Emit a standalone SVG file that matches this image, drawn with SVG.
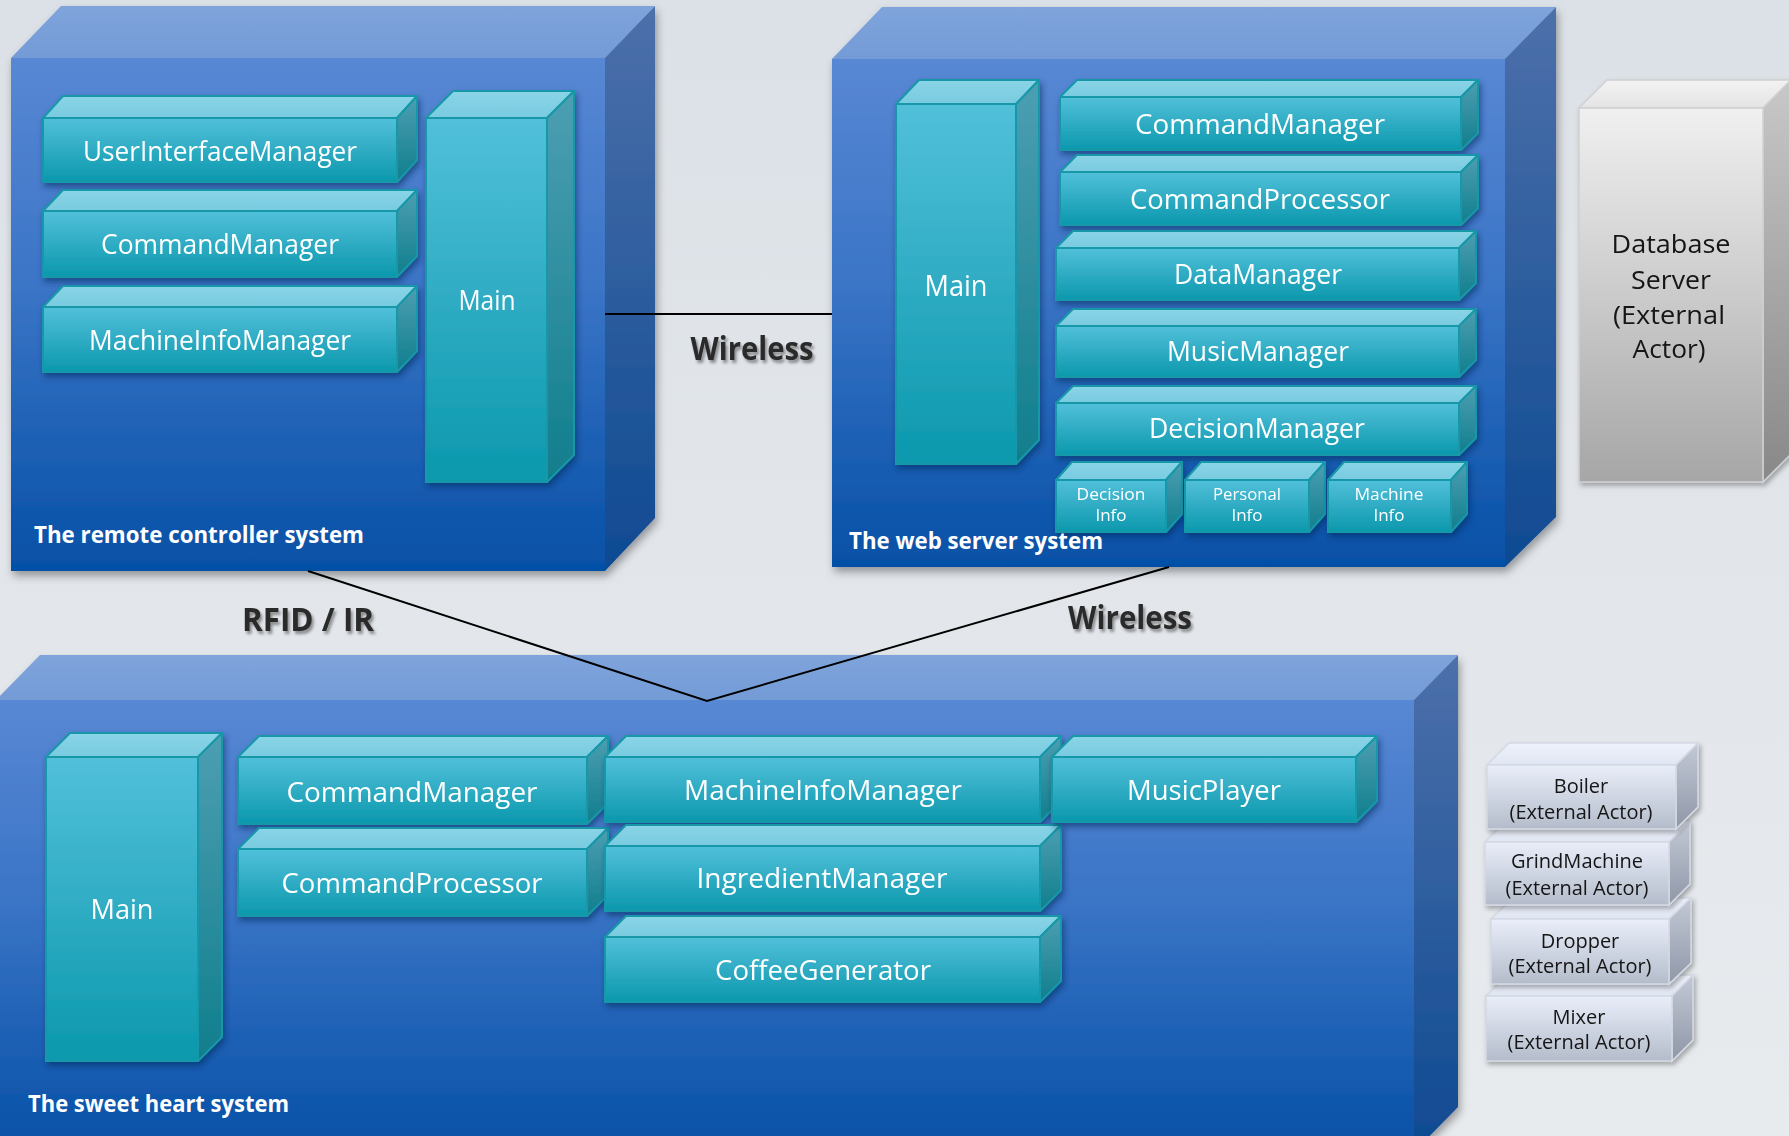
<svg xmlns="http://www.w3.org/2000/svg" width="1789" height="1136" viewBox="0 0 1789 1136">
<defs>
<linearGradient id="bg" x1="0" y1="0" x2="0" y2="1"><stop offset="0" stop-color="#dce1e7"/><stop offset="1" stop-color="#e8ebee"/></linearGradient>
<linearGradient id="sysFront" x1="0" y1="0" x2="0" y2="1"><stop offset="0" stop-color="#5888d4"/><stop offset="0.45" stop-color="#3a74c6"/><stop offset="1" stop-color="#0550a6"/></linearGradient>
<linearGradient id="sysTop" x1="0" y1="0" x2="0" y2="1"><stop offset="0" stop-color="#7fa4dc"/><stop offset="1" stop-color="#739bd6"/></linearGradient>
<linearGradient id="sysSide" x1="0" y1="0" x2="0" y2="1"><stop offset="0" stop-color="#4c70aa"/><stop offset="1" stop-color="#0e4a92"/></linearGradient>
<linearGradient id="tFront" x1="0" y1="0" x2="0" y2="1"><stop offset="0" stop-color="#52c0da"/><stop offset="1" stop-color="#0b98ad"/></linearGradient>
<linearGradient id="tTop" x1="0" y1="0" x2="0" y2="1"><stop offset="0" stop-color="#8ad4e7"/><stop offset="1" stop-color="#78cbe0"/></linearGradient>
<linearGradient id="tSide" x1="0" y1="0" x2="0" y2="1"><stop offset="0" stop-color="#4c9fb2"/><stop offset="1" stop-color="#107e8d"/></linearGradient>
<linearGradient id="aFront" x1="0" y1="0" x2="0" y2="1"><stop offset="0" stop-color="#e9eef9"/><stop offset="1" stop-color="#b4bccb"/></linearGradient>
<linearGradient id="aTop" x1="0" y1="0" x2="0" y2="1"><stop offset="0" stop-color="#eef1fa"/><stop offset="1" stop-color="#e0e6f3"/></linearGradient>
<linearGradient id="aSide" x1="0" y1="0" x2="0" y2="1"><stop offset="0" stop-color="#c3c9d6"/><stop offset="1" stop-color="#8f97a7"/></linearGradient>
<linearGradient id="dbFront" x1="0" y1="0" x2="0" y2="1"><stop offset="0" stop-color="#f0f0f0"/><stop offset="1" stop-color="#a6a6a6"/></linearGradient>
<linearGradient id="dbTop" x1="0" y1="0" x2="0" y2="1"><stop offset="0" stop-color="#f2f2f2"/><stop offset="1" stop-color="#e4e4e4"/></linearGradient>
<linearGradient id="dbSide" x1="0" y1="0" x2="0" y2="1"><stop offset="0" stop-color="#c8c8c8"/><stop offset="1" stop-color="#888888"/></linearGradient>
<filter id="shSys" x="-5%" y="-5%" width="115%" height="115%"><feDropShadow dx="2" dy="5" stdDeviation="4" flood-color="#000" flood-opacity="0.35"/></filter>
<filter id="shComp" x="-10%" y="-10%" width="125%" height="135%"><feDropShadow dx="2" dy="4" stdDeviation="3" flood-color="#002a5a" flood-opacity="0.55"/></filter>
<filter id="shAct" x="-10%" y="-10%" width="125%" height="135%"><feDropShadow dx="2" dy="3" stdDeviation="2.5" flood-color="#000" flood-opacity="0.3"/></filter>
<filter id="shTxt" x="-10%" y="-20%" width="130%" height="150%"><feDropShadow dx="2" dy="3" stdDeviation="1.5" flood-color="#000" flood-opacity="0.4"/></filter>
</defs>
<style>
.sf{fill:url(#sysFront)}
.st{fill:url(#sysTop)}
.ss{fill:url(#sysSide)}
.tf{fill:url(#tFront);stroke:#1898a8;stroke-width:2}
.tt{fill:url(#tTop);stroke:#1898a8;stroke-width:2;stroke-linejoin:round}
.ts{fill:url(#tSide);stroke:#1898a8;stroke-width:2;stroke-linejoin:round}
.af{fill:url(#aFront);stroke:#d4d9e4;stroke-width:1.5}
.at{fill:url(#aTop);stroke:#d4d9e4;stroke-width:1.5}
.as{fill:url(#aSide);stroke:#d4d9e4;stroke-width:1.5}
.df{fill:url(#dbFront);stroke:#d0d0d0;stroke-width:1.5}
.dt{fill:url(#dbTop);stroke:#d0d0d0;stroke-width:1.5}
.ds{fill:url(#dbSide);stroke:#d0d0d0;stroke-width:1.5}
.comp{filter:url(#shComp)}
.sys{filter:url(#shSys)}
.act{filter:url(#shAct)}
text{font-family:"Open Sans","Noto Sans","Liberation Sans",sans-serif}
.lbl{fill:#ffffff;font-size:28px;text-anchor:middle}
.sm{fill:#ffffff;font-size:17px;text-anchor:middle}
.ttl{fill:#ffffff;font-size:24px;font-weight:bold}
.ext{fill:#151515;font-size:20px;text-anchor:middle}
.dbt{fill:#151515;font-size:25px;text-anchor:middle}
.con{fill:#2b2b2b;font-size:32px;font-weight:bold;text-anchor:middle;filter:url(#shTxt)}
.line{stroke:#000;stroke-width:2;fill:none}
</style>
<rect x="0" y="0" width="1789" height="1136" fill="url(#bg)"/>

<!-- Remote controller system -->
<g id="remote-system">
<g class="sys">
<polygon class="st" points="11,58 61,6 655,6 605,58"/>
<polygon class="ss" points="605,58 655,6 655,518 605,571"/>
<rect class="sf" x="11" y="58" width="594" height="513"/>
</g>
<g id="remote-uim" class="comp">
<polygon class="tt" points="43,118 63,96 417,96 397,118"/>
<polygon class="ts" points="397,118 417,96 417,160 397,182"/>
<rect class="tf" x="43" y="118" width="354" height="64"/>
<text class="lbl" x="220" y="161" textLength="274" lengthAdjust="spacingAndGlyphs">UserInterfaceManager</text>
</g>
<g id="remote-cm" class="comp">
<polygon class="tt" points="43,211 63,190 417,190 397,211"/>
<polygon class="ts" points="397,211 417,190 417,256 397,277"/>
<rect class="tf" x="43" y="211" width="354" height="66"/>
<text class="lbl" x="220" y="254" textLength="238" lengthAdjust="spacingAndGlyphs">CommandManager</text>
</g>
<g id="remote-mim" class="comp">
<polygon class="tt" points="43,307 63,286 417,286 397,307"/>
<polygon class="ts" points="397,307 417,286 417,351 397,372"/>
<rect class="tf" x="43" y="307" width="354" height="65"/>
<text class="lbl" x="220" y="350" textLength="262" lengthAdjust="spacingAndGlyphs">MachineInfoManager</text>
</g>
<g id="remote-main" class="comp">
<polygon class="tt" points="426,118 453,91 574,91 547,118"/>
<polygon class="ts" points="547,118 574,91 574,455 547,482"/>
<rect class="tf" x="426" y="118" width="121" height="364"/>
<text class="lbl" x="487" y="310" textLength="57" lengthAdjust="spacingAndGlyphs">Main</text>
</g>
<text class="ttl" x="34" y="543" textLength="330" lengthAdjust="spacingAndGlyphs">The remote controller system</text>
</g>

<!-- Web server system -->
<g id="web-system">
<g class="sys">
<polygon class="st" points="832,59 882,7 1556,7 1505,59"/>
<polygon class="ss" points="1505,59 1556,7 1556,517 1505,567"/>
<rect class="sf" x="832" y="59" width="673" height="508"/>
</g>
<g id="web-main" class="comp">
<polygon class="tt" points="896,104 919,80 1039,80 1016,104"/>
<polygon class="ts" points="1016,104 1039,80 1039,440 1016,464"/>
<rect class="tf" x="896" y="104" width="120" height="360"/>
<text class="lbl" x="956" y="296" style="font-size:30px" textLength="63" lengthAdjust="spacingAndGlyphs">Main</text>
</g>
<g id="web-cm" class="comp">
<polygon class="tt" points="1060,97 1077,80 1478,80 1461,97"/>
<polygon class="ts" points="1461,97 1478,80 1478,133 1461,150"/>
<rect class="tf" x="1060" y="97" width="401" height="53"/>
<text class="lbl" x="1260" y="134" textLength="250" lengthAdjust="spacingAndGlyphs">CommandManager</text>
</g>
<g id="web-cp" class="comp">
<polygon class="tt" points="1060,172 1077,155 1478,155 1461,172"/>
<polygon class="ts" points="1461,172 1478,155 1478,208 1461,225"/>
<rect class="tf" x="1060" y="172" width="401" height="53"/>
<text class="lbl" x="1260" y="209" textLength="260" lengthAdjust="spacingAndGlyphs">CommandProcessor</text>
</g>
<g id="web-dm" class="comp">
<polygon class="tt" points="1056,248 1073,231 1476,231 1459,248"/>
<polygon class="ts" points="1459,248 1476,231 1476,283 1459,300"/>
<rect class="tf" x="1056" y="248" width="403" height="52"/>
<text class="lbl" x="1258" y="284" textLength="168" lengthAdjust="spacingAndGlyphs">DataManager</text>
</g>
<g id="web-mm" class="comp">
<polygon class="tt" points="1056,326 1073,309 1476,309 1459,326"/>
<polygon class="ts" points="1459,326 1476,309 1476,360 1459,377"/>
<rect class="tf" x="1056" y="326" width="403" height="51"/>
<text class="lbl" x="1258" y="361" textLength="182" lengthAdjust="spacingAndGlyphs">MusicManager</text>
</g>
<g id="web-decm" class="comp">
<polygon class="tt" points="1056,403 1073,386 1476,386 1459,403"/>
<polygon class="ts" points="1459,403 1476,386 1476,438 1459,455"/>
<rect class="tf" x="1056" y="403" width="403" height="52"/>
<text class="lbl" x="1257" y="438" textLength="216" lengthAdjust="spacingAndGlyphs">DecisionManager</text>
</g>
<g id="web-decinfo" class="comp">
<polygon class="tt" points="1056,480 1072,462 1182,462 1166,480"/>
<polygon class="ts" points="1166,480 1182,462 1182,514 1166,532"/>
<rect class="tf" x="1056" y="480" width="110" height="52"/>
<text class="sm" x="1111" y="500" textLength="69" lengthAdjust="spacingAndGlyphs">Decision</text>
<text class="sm" x="1111" y="521">Info</text>
</g>
<g id="web-persinfo" class="comp">
<polygon class="tt" points="1185,480 1201,462 1325,462 1309,480"/>
<polygon class="ts" points="1309,480 1325,462 1325,514 1309,532"/>
<rect class="tf" x="1185" y="480" width="124" height="52"/>
<text class="sm" x="1247" y="500" textLength="68" lengthAdjust="spacingAndGlyphs">Personal</text>
<text class="sm" x="1247" y="521">Info</text>
</g>
<g id="web-machinfo" class="comp">
<polygon class="tt" points="1328,480 1344,462 1467,462 1451,480"/>
<polygon class="ts" points="1451,480 1467,462 1467,514 1451,532"/>
<rect class="tf" x="1328" y="480" width="123" height="52"/>
<text class="sm" x="1389" y="500" textLength="69" lengthAdjust="spacingAndGlyphs">Machine</text>
<text class="sm" x="1389" y="521">Info</text>
</g>
<text class="ttl" x="849" y="549" style="font-size:23px" textLength="254" lengthAdjust="spacingAndGlyphs">The web server system</text>
</g>

<!-- Database server -->
<g id="database-server" class="act">
<polygon class="dt" points="1579,108 1607,80 1791,80 1763,108"/>
<polygon class="ds" points="1763,108 1791,80 1791,454 1763,482"/>
<rect class="df" x="1579" y="108" width="184" height="374"/>
<text class="dbt" x="1671" y="253" textLength="119" lengthAdjust="spacingAndGlyphs">Database</text>
<text class="dbt" x="1671" y="289" textLength="80" lengthAdjust="spacingAndGlyphs">Server</text>
<text class="dbt" x="1669" y="324" textLength="112" lengthAdjust="spacingAndGlyphs">(External</text>
<text class="dbt" x="1669" y="358" textLength="73" lengthAdjust="spacingAndGlyphs">Actor)</text>
</g>

<!-- Sweet heart system -->
<g id="sweetheart-system">
<g class="sys">
<polygon class="st" points="-4,700 40,655 1458,655 1414,700"/>
<polygon class="ss" points="1414,700 1458,655 1458,1107 1414,1152"/>
<rect class="sf" x="-4" y="700" width="1418" height="452"/>
</g>
<g id="sh-main" class="comp">
<polygon class="tt" points="46,757 70,733 222,733 198,757"/>
<polygon class="ts" points="198,757 222,733 222,1037 198,1061"/>
<rect class="tf" x="46" y="757" width="152" height="304"/>
<text class="lbl" x="122" y="919" textLength="63" lengthAdjust="spacingAndGlyphs">Main</text>
</g>
<g id="sh-cm" class="comp">
<polygon class="tt" points="238,757 259,736 608,736 587,757"/>
<polygon class="ts" points="587,757 608,736 608,803 587,824"/>
<rect class="tf" x="238" y="757" width="349" height="67"/>
<text class="lbl" x="412" y="802" textLength="251" lengthAdjust="spacingAndGlyphs">CommandManager</text>
</g>
<g id="sh-cp" class="comp">
<polygon class="tt" points="238,849 259,828 608,828 587,849"/>
<polygon class="ts" points="587,849 608,828 608,895 587,916"/>
<rect class="tf" x="238" y="849" width="349" height="67"/>
<text class="lbl" x="412" y="893" textLength="261" lengthAdjust="spacingAndGlyphs">CommandProcessor</text>
</g>
<g id="sh-mim" class="comp">
<polygon class="tt" points="605,757 626,736 1061,736 1040,757"/>
<polygon class="ts" points="1040,757 1061,736 1061,801 1040,822"/>
<rect class="tf" x="605" y="757" width="435" height="65"/>
<text class="lbl" x="823" y="800" textLength="278" lengthAdjust="spacingAndGlyphs">MachineInfoManager</text>
</g>
<g id="sh-ing" class="comp">
<polygon class="tt" points="605,846 626,825 1061,825 1040,846"/>
<polygon class="ts" points="1040,846 1061,825 1061,890 1040,911"/>
<rect class="tf" x="605" y="846" width="435" height="65"/>
<text class="lbl" x="822" y="888" textLength="251" lengthAdjust="spacingAndGlyphs">IngredientManager</text>
</g>
<g id="sh-coffee" class="comp">
<polygon class="tt" points="605,937 626,916 1061,916 1040,937"/>
<polygon class="ts" points="1040,937 1061,916 1061,981 1040,1002"/>
<rect class="tf" x="605" y="937" width="435" height="65"/>
<text class="lbl" x="823" y="980" textLength="216" lengthAdjust="spacingAndGlyphs">CoffeeGenerator</text>
</g>
<g id="sh-music" class="comp">
<polygon class="tt" points="1052,757 1073,736 1377,736 1356,757"/>
<polygon class="ts" points="1356,757 1377,736 1377,801 1356,822"/>
<rect class="tf" x="1052" y="757" width="304" height="65"/>
<text class="lbl" x="1204" y="800" textLength="154" lengthAdjust="spacingAndGlyphs">MusicPlayer</text>
</g>
<text class="ttl" x="28" y="1112" textLength="261" lengthAdjust="spacingAndGlyphs">The sweet heart system</text>
</g>

<!-- External actors -->
<g id="mixer" class="act">
<polygon class="at" points="1486,996 1507,975 1693,975 1672,996"/>
<polygon class="as" points="1672,996 1693,975 1693,1040 1672,1061"/>
<rect class="af" x="1486" y="996" width="186" height="65"/>
<text class="ext" x="1579" y="1024">Mixer</text>
<text class="ext" x="1579" y="1049" textLength="143" lengthAdjust="spacingAndGlyphs">(External Actor)</text>
</g>
<g id="dropper" class="act">
<polygon class="at" points="1491,919 1513,898 1691,898 1669,919"/>
<polygon class="as" points="1669,919 1691,898 1691,963 1669,984"/>
<rect class="af" x="1491" y="919" width="178" height="65"/>
<text class="ext" x="1580" y="948">Dropper</text>
<text class="ext" x="1580" y="973" textLength="143" lengthAdjust="spacingAndGlyphs">(External Actor)</text>
</g>
<g id="grindmachine" class="act">
<polygon class="at" points="1485,842 1506,821 1690,821 1669,842"/>
<polygon class="as" points="1669,842 1690,821 1690,884 1669,905"/>
<rect class="af" x="1485" y="842" width="184" height="63"/>
<text class="ext" x="1577" y="868" textLength="132" lengthAdjust="spacingAndGlyphs">GrindMachine</text>
<text class="ext" x="1577" y="895" textLength="143" lengthAdjust="spacingAndGlyphs">(External Actor)</text>
</g>
<g id="boiler" class="act">
<polygon class="at" points="1487,765 1509,743 1698,743 1676,765"/>
<polygon class="as" points="1676,765 1698,743 1698,807 1676,829"/>
<rect class="af" x="1487" y="765" width="189" height="64"/>
<text class="ext" x="1581" y="793">Boiler</text>
<text class="ext" x="1581" y="819" textLength="143" lengthAdjust="spacingAndGlyphs">(External Actor)</text>
</g>

<!-- Connectors -->
<g id="connectors">
<line class="line" x1="605" y1="314" x2="832" y2="314"/>
<polyline class="line" points="308,571 707,701 1169,567"/>
<text class="con" x="752" y="360" textLength="123" lengthAdjust="spacingAndGlyphs">Wireless</text>
<text class="con" x="308" y="631" textLength="132" lengthAdjust="spacingAndGlyphs">RFID / IR</text>
<text class="con" x="1130" y="629" textLength="124" lengthAdjust="spacingAndGlyphs">Wireless</text>
</g>
</svg>
